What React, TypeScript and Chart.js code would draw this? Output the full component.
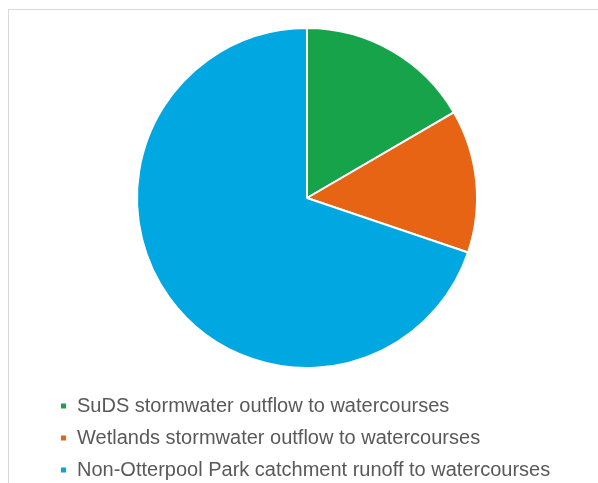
import React, { useEffect, useRef } from "react";
import { Chart, registerables } from "chart.js";

Chart.register(...registerables);

const categories = [
  "SuDS stormwater outflow to watercourses",
  "Wetlands stormwater outflow to watercourses",
  "Non-Otterpool Park catchment runoff to watercourses",
];
const values = [16.6, 13.6, 69.8];
const colors = ["#17A34A", "#E66414", "#00A7E1"];

export default function App() {
  const ref = useRef<HTMLCanvasElement | null>(null);
  useEffect(() => {
    if (!ref.current) return;
    const chart = new Chart(ref.current, {
      type: "pie",
      data: {
        labels: categories,
        datasets: [
          {
            data: values,
            backgroundColor: colors,
            borderColor: "#ffffff",
            borderWidth: 2,
            radius: 170,
          },
        ],
      },
      options: {
        responsive: false,
        animation: false,
        layout: { padding: { left: 39, right: 32, top: 2, bottom: 0 } },
        plugins: {
          tooltip: { enabled: false },
          legend: {
            position: "bottom",
            align: "start",
            labels: {
              boxWidth: 7,
              boxHeight: 7,
              padding: 12,
              color: "#595959",
              font: { family: "'Liberation Sans', Arial, sans-serif", size: 20 },
            },
          },
        },
      },
    });
    return () => chart.destroy();
  }, []);
  return (
    <div
      style={{
        position: "absolute",
        left: 8,
        top: 9,
        width: 590,
        height: 474,
        borderLeft: "1px solid #d9d9d9",
        borderTop: "1px solid #d9d9d9",
        overflow: "hidden",
        background: "#fff",
      }}
    >
      <canvas ref={ref} width={589} height={480} style={{ display: "block" }} />
    </div>
  );
}
